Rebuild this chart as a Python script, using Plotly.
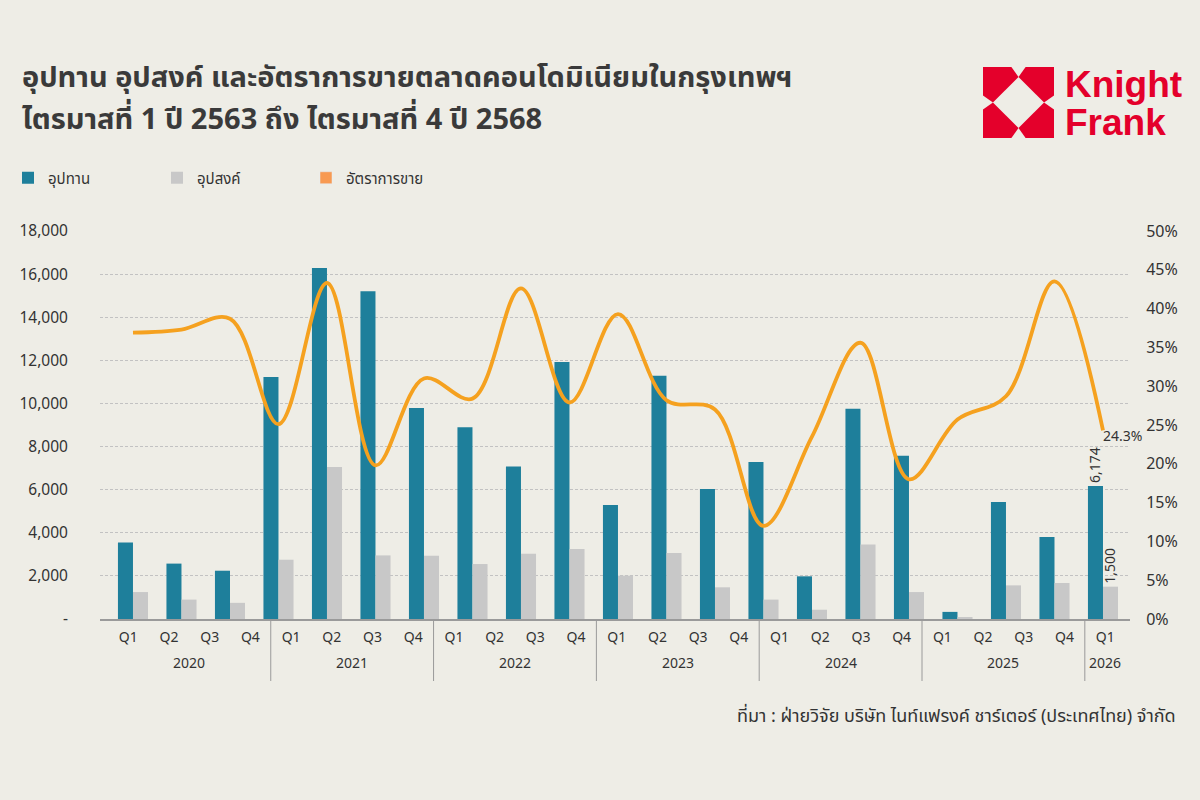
import plotly.graph_objects as go

# ---------------- data ----------------
supply = [3550, 2570, 2240, 11230, 16280, 15200, 9790, 8900, 7080, 11920, 5290,
          11290, 6030, 7280, 1980, 9750, 7570, 330, 5430, 3800, 6174]
demand = [1250, 900, 750, 2750, 7050, 2950, 2940, 2550, 3030, 3250, 2010,
          3060, 1470, 900, 430, 3460, 1250, 90, 1560, 1670, 1500]
sales_rate = [36.9, 37.3, 38.7, 25.1, 43.3, 19.8, 31.0, 28.4, 42.6, 27.9, 39.3,
              28.2, 27.0, 12.0, 23.5, 35.6, 18.0, 25.7, 28.7, 43.5, 24.3]
periods = list(range(len(supply)))

years = ["2020"] * 4 + ["2021"] * 4 + ["2022"] * 4 + ["2023"] * 4 + ["2024"] * 4 + ["2025"] * 4 + ["2026"]
quarters = ["Q1", "Q2", "Q3", "Q4"] * 6 + ["Q1"]

y_tickvals = [0, 2000, 4000, 6000, 8000, 10000, 12000, 14000, 16000, 18000]
y_ticktext = ["-", "2,000", "4,000", "6,000", "8,000", "10,000", "12,000", "14,000", "16,000", "18,000"]
y2_tickvals = [0, 5, 10, 15, 20, 25, 30, 35, 40, 45, 50]
y2_ticktext = [f"{v}%" for v in y2_tickvals]

names = ["อุปทาน", "อุปสงค์", "อัตราการขาย"]
title_lines = ["อุปทาน อุปสงค์ และอัตราการขายตลาดคอนโดมิเนียมในกรุงเทพฯ",
               "ไตรมาสที่ 1 ปี 2563 ถึง ไตรมาสที่ 4 ปี 2568"]
source_text = "ที่มา : ฝ่ายวิจัย บริษัท ไนท์แฟรงค์ ชาร์เตอร์ (ประเทศไทย) จำกัด"

# ---------------- style ----------------
BG = "#eeede6"
TEAL = "#1e7f9b"
GREY = "#c8c8c8"
ORANGE = "#f5a11f"
ORANGE_LEG = "#f89a52"
RED = "#e4002b"
TXT = "#333333"
FONT = "Noto Sans Thai, Noto Sans, Arial, sans-serif"

W, H = 1200, 800
L, R, T, B = 100, 70, 231, 181
PW, PH = W - L - R, H - T - B


def px(x):
    return (x - L) / PW


def py(y):
    return (H - B - y) / PH


supply_text = [""] * (len(supply) - 1) + [f"{supply[-1]:,}"]
demand_text = [""] * (len(demand) - 1) + [f"{demand[-1]:,}"]
rate_text = [""] * (len(sales_rate) - 1) + [f"{sales_rate[-1]}%"]

label_pos = list(range(len(quarters)))

fig = go.Figure()
fig.add_trace(go.Bar(
    x=periods, y=supply, name=names[0], marker_color=TEAL, marker_line_width=0,
    width=0.31, offset=-0.31, text=supply_text, textposition="outside",
    textangle=-90, constraintext="none", textfont=dict(size=14, color=TXT),
    cliponaxis=False,
))
fig.add_trace(go.Bar(
    x=periods, y=demand, name=names[1], marker_color=GREY, marker_line_width=0,
    width=0.31, offset=0.0, text=demand_text, textposition="outside",
    textangle=-90, constraintext="none", textfont=dict(size=14, color=TXT),
    cliponaxis=False,
))
fig.add_trace(go.Bar(
    x=[None], y=[None], name=names[2], marker_color=ORANGE_LEG,
))
fig.add_trace(go.Scatter(
    x=periods, y=sales_rate, yaxis="y2", mode="lines", name=names[2],
    line=dict(color=ORANGE, width=3.8, shape="spline", smoothing=1),
    showlegend=False, cliponaxis=False,
))
fig.add_trace(go.Scatter(
    x=periods[-1:], y=sales_rate[-1:], yaxis="y2", mode="text",
    text=rate_text[-1:], textposition="bottom right",
    textfont=dict(size=14, color=TXT), showlegend=False, cliponaxis=False,
    hoverinfo="skip",
))
# label axis: quarter tick labels
fig.add_trace(go.Scatter(
    x=label_pos, y=[0] * len(label_pos), xaxis="x2", mode="markers",
    marker=dict(opacity=0), showlegend=False, hoverinfo="skip",
))

fig.update_layout(
    width=W, height=H,
    paper_bgcolor=BG, plot_bgcolor=BG,
    margin=dict(l=L, r=R, t=T, b=B, pad=0, autoexpand=False),
    font=dict(family=FONT, color=TXT, size=14),
    barmode="overlay",
    showlegend=True,
    legend=dict(orientation="h", x=px(8), xanchor="left", y=py(178), yanchor="middle",
                font=dict(size=15, color=TXT), entrywidth=104, entrywidthmode="pixels",
                bgcolor="rgba(0,0,0,0)", traceorder="normal"),
    xaxis=dict(range=[-0.68, 20.557], showticklabels=False, showgrid=False,
               zeroline=False, showline=True, linecolor="#9a9a9a", linewidth=1.5,
               ticks="", automargin=False),
    xaxis2=dict(overlaying="x", anchor="y", side="bottom",
                range=[-0.695, 24.61], tickvals=label_pos, ticktext=quarters,
                showgrid=False, zeroline=False, showline=False,
                tickfont=dict(size=14, color=TXT), ticks="outside", ticklen=5,
                tickcolor="rgba(0,0,0,0)", automargin=False),
    yaxis=dict(range=[0, 18000], tickvals=y_tickvals, ticktext=y_ticktext,
               showgrid=True, gridcolor="#c2c2c2", griddash="3px,2px", gridwidth=1,
               zeroline=False, ticks="outside", ticklen=28, tickcolor="rgba(0,0,0,0)",
               tickfont=dict(size=15.5, color=TXT), showline=False, automargin=False),
    yaxis2=dict(range=[0, 50], tickvals=y2_tickvals, ticktext=y2_ticktext,
                overlaying="y", side="right", showgrid=False, zeroline=False,
                ticks="outside", ticklen=12, tickcolor="rgba(0,0,0,0)",
                tickfont=dict(size=16, color=TXT), showline=False, automargin=False),
)

annotations = [
    dict(text=title_lines[0], x=px(20), y=py(78), xref="paper", yref="paper",
         xanchor="left", yanchor="middle", align="left", showarrow=False,
         font=dict(size=29, color="#3a3a3a", family=FONT, weight="bold")),
    dict(text=title_lines[1], x=px(20), y=py(120), xref="paper", yref="paper",
         xanchor="left", yanchor="middle", align="left", showarrow=False,
         font=dict(size=29, color="#3a3a3a", family=FONT, weight="bold")),
    dict(text=source_text, x=px(1178), y=py(716), xref="paper", yref="paper",
         xanchor="right", yanchor="middle", showarrow=False,
         font=dict(size=18, color=TXT, family=FONT)),
    dict(text="Knight", x=px(1063), y=py(84), xref="paper", yref="paper",
         xanchor="left", yanchor="middle", showarrow=False,
         font=dict(size=37, color=RED, family="Liberation Sans, Arial, sans-serif", weight="bold")),
    dict(text="Frank", x=px(1063), y=py(122), xref="paper", yref="paper",
         xanchor="left", yanchor="middle", showarrow=False,
         font=dict(size=37, color=RED, family="Liberation Sans, Arial, sans-serif", weight="bold")),
]

# year group labels and dividers on the label axis
shapes = []
unique_years = []
for yv in years:
    if yv not in unique_years:
        unique_years.append(yv)
for yv in unique_years:
    idx = [i for i, v in enumerate(years) if v == yv]
    annotations.append(dict(text=yv, x=sum(idx) / len(idx), y=py(663), xref="x2", yref="paper",
                            xanchor="center", yanchor="middle", showarrow=False,
                            font=dict(size=14, color=TXT, family=FONT)))
    if idx[0] > 0:
        shapes.append(dict(type="line", xref="x2", yref="paper",
                           x0=idx[0] - 0.5, x1=idx[0] - 0.5, y0=0, y1=py(681),
                           line=dict(color="#9a9a9a", width=1)))

fig.update_layout(annotations=annotations)

# Knight Frank logo mark: four pentagons around a diamond hole
LX, LY, LS = 983, 67, 71
a, d = 0.4, 0.14
pieces = [
    [(0, 0), (a, 0), (0.5, d), (d, 0.5), (0, a)],
    [(1, 0), (1 - a, 0), (0.5, d), (1 - d, 0.5), (1, a)],
    [(0, 1), (a, 1), (0.5, 1 - d), (d, 0.5), (0, 1 - a)],
    [(1, 1), (1 - a, 1), (0.5, 1 - d), (1 - d, 0.5), (1, 1 - a)],
]
for pc in pieces:
    pts = [(px(LX + u * LS), py(LY + v * LS)) for u, v in pc]
    path = "M " + " L ".join(f"{x:.5f},{y:.5f}" for x, y in pts) + " Z"
    shapes.append(dict(type="path", path=path, xref="paper", yref="paper",
                       fillcolor=RED, line=dict(width=0), layer="above"))
fig.update_layout(shapes=shapes)

fig.write_html("out.html")
